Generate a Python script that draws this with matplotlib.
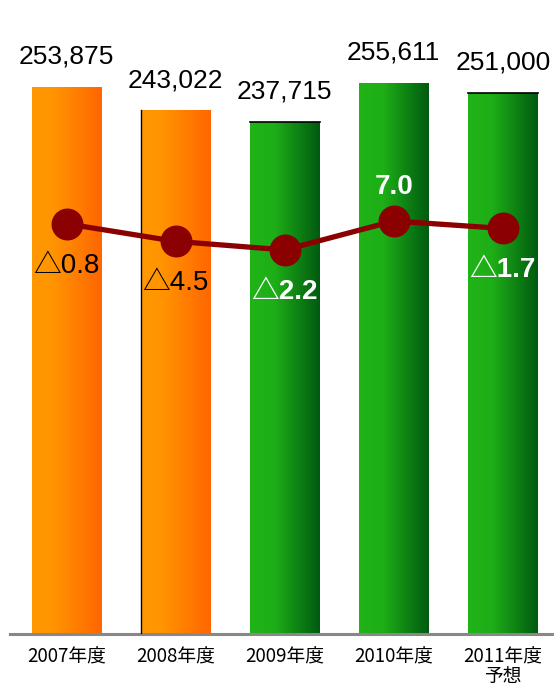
import numpy as np
import matplotlib.pyplot as plt
from matplotlib.colors import LinearSegmentedColormap

years = ["2007年度", "2008年度", "2009年度", "2010年度", "2011年度\n予想"]
values = [253875, 243022, 237715, 255611, 251000]
growth = ["△0.8", "△4.5", "△2.2", "7.0", "△1.7"]
label_white = [False, False, True, True, True]
label_above = [False, False, False, True, False]
kind = ["orange", "orange", "green", "green", "green"]

plt.rcParams['font.family'] = ['Liberation Sans', 'Noto Sans CJK JP', 'DejaVu Sans']

grads = {
    "orange": LinearSegmentedColormap.from_list("o", [(0, "#ff9900"), (0.3, "#ff9400"), (1, "#ff6600")]),
    "green": LinearSegmentedColormap.from_list("g", [(0, "#20b418"), (0.35, "#1eae17"), (1, "#005a10")]),
}

fig = plt.figure(figsize=(5.54, 6.91), dpi=100)
ax = fig.add_axes([10 / 554, 57 / 691, 544 / 554, 634 / 691])
x = np.arange(len(values))
w = 0.64

bars = ax.bar(x, values, width=w, color="none", edgecolor="none", zorder=2)
grad = np.linspace(0, 1, 256).reshape(1, -1)
for b, k in zip(bars, kind):
    x0, y0 = b.get_x(), b.get_y()
    im = ax.imshow(grad, cmap=grads[k], aspect="auto", zorder=2,
                   extent=(x0, x0 + b.get_width(), y0, y0 + b.get_height()))
    im.set_clip_path(b)

# stray black edges as in the source
ax.plot([x[1] - w / 2] * 2, [0, values[1]], color="black", lw=1, zorder=3)
for i in (2, 4):
    ax.plot([x[i] - w / 2, x[i] + w / 2], [values[i]] * 2, color="black", lw=1.2, zorder=3)

for i, v in enumerate(values):
    ax.text(x[i], v + 8500, f"{v:,}", ha="center", va="bottom", fontsize=19, color="black")

ax.set_xlim(-0.52, 4.47)
ax.set_ylim(0, 294250)
ax.set_xticks(x)
ax.set_xticklabels(years, fontsize=13.5, family=['Noto Sans CJK JP'], linespacing=0.9)
ax.tick_params(axis="x", length=0, pad=9)
ax.set_yticks([])
for s in ("top", "right", "left"):
    ax.spines[s].set_visible(False)
ax.spines["bottom"].set_color("#888888")
ax.spines["bottom"].set_linewidth(2.2)

ax2 = ax.twinx()
ax2.set_ylim(0, 392400)
ax2.plot(x, values, color="#8b0000", lw=3.8, marker="o", markersize=22, zorder=4)
ax2.set_yticks([])
for s in ax2.spines.values():
    s.set_visible(False)
for i, v in enumerate(values):
    dy = 21000 if label_above[i] else -26000
    ax2.text(x[i], v + dy, growth[i], ha="center", va="center", fontsize=20,
             color="white" if label_white[i] else "black",
             fontweight="bold" if label_white[i] else "normal", zorder=5)

fig.savefig("out.png", dpi=100)
